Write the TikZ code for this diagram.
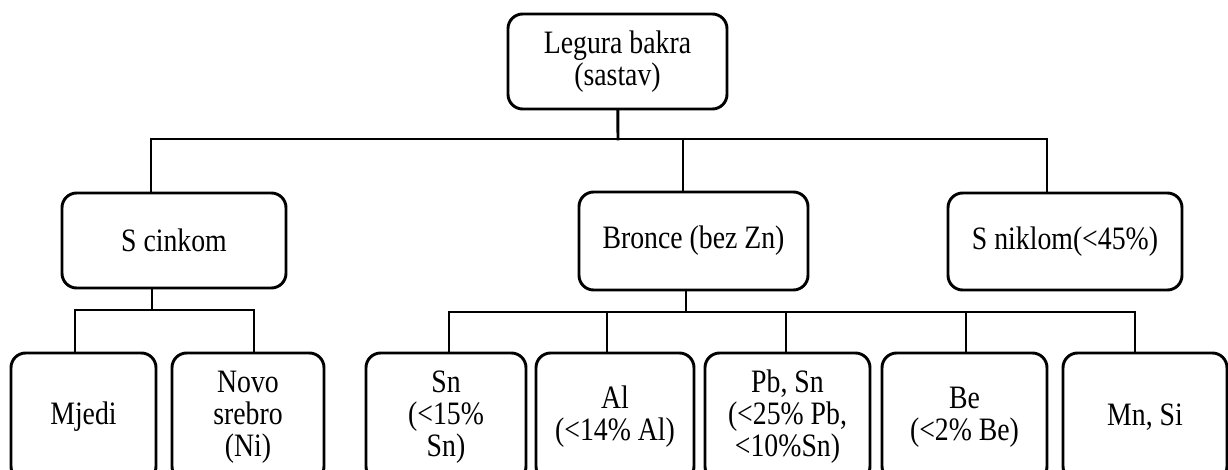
\documentclass[tikz,border=0pt]{standalone}
\usepackage{fontspec}
\setmainfont[FakeStretch=0.85]{Liberation Serif}
\begin{document}
\begin{tikzpicture}[x=0.75pt,y=-0.75pt,
  box/.style={draw=black,line width=2.2pt,rounded corners=11pt,align=center,
    inner sep=0pt,font=\fontsize{24.5}{24}\selectfont},
  conn/.style={line width=2.2pt,line cap=rect}]
\clip (0,0) rectangle (1228,470);
\fill[white] (0,0) rectangle (1228,470);
% top level
\node[box,minimum width=219pt*0.75/0.75*0.75/0.75,minimum width=164.25pt,minimum height=71.25pt] (root) at (617.5,61.5) {Legura bakra\\(sastav)};
% second level
\node[box,minimum width=168pt,minimum height=71.25pt] (cink) at (174,240.5) {S cinkom};
\node[box,minimum width=171.75pt,minimum height=73.5pt] (bronce) at (693.5,241) {Bronce (bez Zn)};
\node[box,minimum width=175.5pt,minimum height=72.75pt] (nikl) at (1065,241.5) {S niklom(<45\%)};
% third level
\node[box,minimum width=108.75pt,minimum height=96pt] (mjedi) at (83.5,417) {Mjedi};
\node[box,minimum width=114pt,minimum height=96pt] (novo) at (248,417) {Novo\\srebro\\(Ni)};
\node[box,minimum width=120pt,minimum height=96pt] (sn) at (446,417) {Sn\\(<15\%\\Sn)};
\node[box,minimum width=118.5pt,minimum height=96pt] (al) at (615,417) {Al\\(<14\% Al)};
\node[box,minimum width=123.75pt,minimum height=96pt] (pb) at (787.5,417) {Pb, Sn\\(<25\% Pb,\\<10\%Sn)};
\node[box,minimum width=123.75pt,minimum height=96pt] (be) at (964.5,417) {Be\\(<2\% Be)};
\node[box,minimum width=123pt,minimum height=96pt] (mn) at (1145,417) {Mn, Si};
% connectors: top bus
\coordinate (tR0) at (618,139);
\coordinate (tA) at (151,139);
\coordinate (tB) at (683,139);
\coordinate (tC) at (1047,139);
\draw[conn] (root) -- (tR0);
\draw[conn] (tA) -- (tC);
\draw[conn] (tA) -- (tA |- cink.north);
\draw[conn] (tB) -- (tB |- bronce.north);
\draw[conn] (tC) -- (tC |- nikl.north);
% S cinkom bus
\coordinate (c0) at (152,310);
\coordinate (cA) at (75,310);
\coordinate (cB) at (254,310);
\draw[conn] (c0 |- cink.south) -- (c0);
\draw[conn] (cA) -- (cB);
\draw[conn] (cA) -- (cA |- mjedi.north);
\draw[conn] (cB) -- (cB |- novo.north);
% Bronce bus
\coordinate (b0) at (686,312);
\coordinate (bA) at (449,312);
\coordinate (bB) at (607,312);
\coordinate (bC) at (786,312);
\coordinate (bD) at (966,312);
\coordinate (bE) at (1135,312);
\draw[conn] (b0 |- bronce.south) -- (b0);
\draw[conn] (bA) -- (bE);
\draw[conn] (bA) -- (bA |- sn.north);
\draw[conn] (bB) -- (bB |- al.north);
\draw[conn] (bC) -- (bC |- pb.north);
\draw[conn] (bD) -- (bD |- be.north);
\draw[conn] (bE) -- (bE |- mn.north);
\end{tikzpicture}
\end{document}
